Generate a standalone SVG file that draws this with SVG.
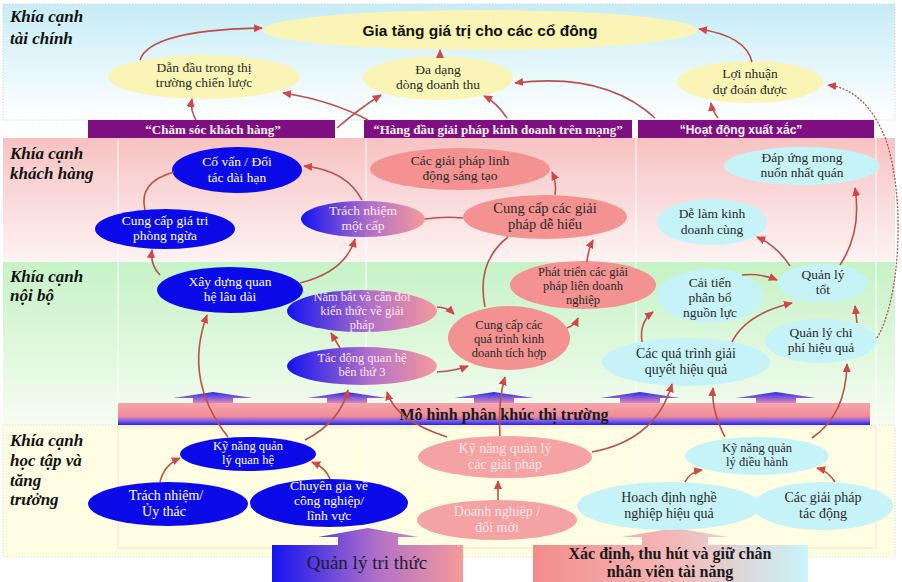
<svg xmlns="http://www.w3.org/2000/svg" width="902" height="582" viewBox="0 0 902 582">
  <defs>
    <linearGradient id="bandFin" x1="0" y1="0" x2="0" y2="1">
      <stop offset="0" stop-color="#c6ecf6"/>
      <stop offset="1" stop-color="#ffffff"/>
    </linearGradient>
    <linearGradient id="bandCus" x1="0" y1="0" x2="0" y2="1">
      <stop offset="0" stop-color="#f7c2c2"/>
      <stop offset="1" stop-color="#fdf3f3"/>
    </linearGradient>
    <linearGradient id="bandInt" x1="0" y1="0" x2="0" y2="1">
      <stop offset="0" stop-color="#c6f2c6"/>
      <stop offset="1" stop-color="#f6fdf2"/>
    </linearGradient>
    <linearGradient id="bluePink" x1="0" y1="0" x2="1" y2="0">
      <stop offset="0" stop-color="#1414f0"/>
      <stop offset="0.55" stop-color="#b070c8"/>
      <stop offset="1" stop-color="#f59a9a"/>
    </linearGradient>
    <linearGradient id="pinkCyan" x1="0" y1="0" x2="1" y2="0">
      <stop offset="0" stop-color="#f28c8c"/>
      <stop offset="0.5" stop-color="#f6b6b6"/>
      <stop offset="1" stop-color="#c8f4f8"/>
    </linearGradient>
    <linearGradient id="barGrad" x1="0" y1="0" x2="0" y2="1">
      <stop offset="0" stop-color="#f4a6aa"/>
      <stop offset="0.6" stop-color="#f08c98"/>
      <stop offset="0.8" stop-color="#8a60d8"/>
      <stop offset="1" stop-color="#2222ff"/>
    </linearGradient>
    <linearGradient id="upGrad" x1="0" y1="0" x2="0" y2="1">
      <stop offset="0" stop-color="#2a2af0"/>
      <stop offset="1" stop-color="#d88ab8"/>
    </linearGradient>
    <marker id="ah" viewBox="0 0 10 10" refX="9" refY="5" markerWidth="9" markerHeight="9" markerUnits="userSpaceOnUse" orient="auto">
      <path d="M0,0.5 L10,5 L0,9.5 z" fill="#d24646"/>
    </marker>
    <style>
      .side { font-family: "Liberation Serif", serif; font-weight: bold; font-style: italic; font-size: 17px; fill: #111; }
      .nt { font-family: "Liberation Serif", serif; font-size: 13.5px; text-anchor: middle; }
      .dark { fill: #2a2a2a; }
      .light { fill: #ffffff; }
      .soft { fill: #fde6ea; }
      .yel { fill: #faf5b6; }
      .blu { fill: #0b0bea; }
      .pnk { fill: #f39290; }
      .pnk2 { fill: #f5a2a2; }
      .cya { fill: #c6f3f8; }
      .grd { fill: url(#bluePink); }
      .banner { fill: #7d0f80; }
      .btxt { font-family: "Liberation Serif", serif; font-weight: bold; font-size: 13px; fill: #fff2f8; text-anchor: middle; }
      .col { stroke: #ffffff; stroke-opacity: 0.8; stroke-width: 1.2; }
      .conn path { fill: none; stroke: #b8524c; stroke-width: 1.6; }
      .conn .h { marker-end: url(#ah); }
    </style>
  </defs>

  <!-- perspective bands -->
  <rect x="3" y="4" width="892" height="116" fill="url(#bandFin)" stroke="#d8d8d8" stroke-dasharray="1.5,1.5"/>
  <rect x="3" y="138" width="892" height="124" fill="url(#bandCus)"/>
  <rect x="3" y="262" width="892" height="163" fill="url(#bandInt)"/>
  <rect x="3" y="425" width="892" height="132" fill="#fffde2" stroke="#e0e0d0" stroke-dasharray="1.5,1.5"/>

  <!-- column guides -->
  <g class="col">
    <line x1="118" y1="138" x2="118" y2="548"/>
    <line x1="366" y1="138" x2="366" y2="548"/>
    <line x1="636" y1="138" x2="636" y2="548"/>
    <line x1="876" y1="138" x2="876" y2="548"/>
  </g>
  <rect x="118" y="427" width="758" height="121" fill="none" stroke="#ebe6cf"/>

  <!-- side titles -->
  <text class="side" x="10" y="22">Khía cạnh</text>
  <text class="side" x="10" y="44">tài chính</text>
  <text class="side" x="10" y="159">Khía cạnh</text>
  <text class="side" x="10" y="179">khách hàng</text>
  <text class="side" x="10" y="282">Khía cạnh</text>
  <text class="side" x="10" y="301">nội bộ</text>
  <text class="side" x="10" y="446">Khía cạnh</text>
  <text class="side" x="10" y="466">học tập và</text>
  <text class="side" x="10" y="486">tăng</text>
  <text class="side" x="10" y="505">trưởng</text>

  <!-- value proposition banners -->
  <g id="banner-care">
    <rect class="banner" x="88" y="120" width="247" height="18"/>
    <text class="btxt" x="213" y="134">“Chăm sóc khách hàng”</text>
  </g>
  <g id="banner-online">
    <rect class="banner" x="364" y="120" width="268" height="18"/>
    <text class="btxt" x="498" y="134">“Hàng đầu giải pháp kinh doanh trên mạng”</text>
  </g>
  <g id="banner-ops">
    <rect class="banner" x="638" y="120" width="236" height="18"/>
    <text x="741" y="134" style="font-family:'Liberation Sans',sans-serif;font-weight:bold;font-size:12px;fill:#fff2f8;text-anchor:middle">“Hoạt động xuất xắc”</text>
  </g>

  <!-- segmentation bar with up arrows -->
  <g id="segment-bar">
    <g fill="url(#upGrad)">
      <polygon points="173,398 213,392 253,398 233,398 233,403 193,403 193,398"/>
      <polygon points="307,398 347,392 387,398 367,398 367,403 327,403 327,398"/>
      <polygon points="454,398 494,392 534,398 514,398 514,403 474,403 474,398"/>
      <polygon points="600,398 640,392 680,398 660,398 660,403 620,403 620,398"/>
      <polygon points="736,398 776,392 816,398 796,398 796,403 756,403 756,398"/>
    </g>
    <rect x="118" y="403" width="752" height="22" fill="url(#barGrad)"/>
    <text x="504" y="420" style="font-family:'Liberation Serif',serif;font-weight:bold;font-size:16px;fill:#1a1a1a;text-anchor:middle">Mô hình phân khúc thị trường</text>
  </g>

  <!-- foundation blocks -->
  <g id="knowledge-mgmt">
    <polygon points="318,537 368,528 418,537 398,537 398,545 463,545 463,582 272,582 272,545 338,545 338,537" fill="url(#bluePink)"/>
    <text x="367" y="569" style="font-family:'Liberation Serif',serif;font-size:19px;fill:#1c1c3a;text-anchor:middle">Quản lý tri  thức</text>
  </g>
  <g id="talent">
    <polygon points="622,537 675,528 728,537 708,537 708,545 808,545 808,582 533,582 533,545 642,545 642,537" fill="url(#pinkCyan)"/>
    <text x="670" y="559" style="font-family:'Liberation Serif',serif;font-weight:bold;font-size:16px;fill:#1a1a1a;text-anchor:middle">Xác định, thu hút và giữ chân</text>
    <text x="670" y="577" style="font-family:'Liberation Serif',serif;font-weight:bold;font-size:16px;fill:#1a1a1a;text-anchor:middle">nhân viên tài năng</text>
  </g>

  <!-- financial nodes -->
  <g id="shareholder-value">
    <ellipse class="yel" cx="480" cy="30" rx="217" ry="20"/>
    <text x="480" y="36" style="font-family:'Liberation Sans',sans-serif;font-weight:bold;font-size:15.5px;fill:#111;text-anchor:middle">Gia tăng giá trị cho các cổ đông</text>
  </g>
  <g id="market-lead">
    <ellipse class="yel" cx="204" cy="77" rx="96" ry="22"/>
    <text class="nt dark"><tspan x="204" y="72">Dẫn đầu trong thị</tspan><tspan x="204" y="87">trường chiến lược</tspan></text>
  </g>
  <g id="revenue-mix">
    <ellipse class="yel" cx="438" cy="78" rx="75" ry="22"/>
    <text class="nt dark"><tspan x="438" y="74">Đa dạng</tspan><tspan x="438" y="89">dòng doanh thu</tspan></text>
  </g>
  <g id="profit">
    <ellipse class="yel" cx="750" cy="82" rx="73" ry="21"/>
    <text class="nt dark"><tspan x="750" y="78">Lợi nhuận</tspan><tspan x="750" y="94">dự đoán được</tspan></text>
  </g>

  <!-- customer nodes -->
  <g id="advisor">
    <ellipse class="blu" cx="237" cy="170" rx="65" ry="23"/>
    <text class="nt light"><tspan x="237" y="166">Cố vấn / Đối</tspan><tspan x="237" y="182">tác dài hạn</tspan></text>
  </g>
  <g id="preventive-value">
    <ellipse class="blu" cx="165" cy="229" rx="70" ry="20"/>
    <text class="nt light"><tspan x="165" y="225">Cung cấp giá tri</tspan><tspan x="165" y="240">phòng ngừa</tspan></text>
  </g>
  <g id="single-accountability">
    <ellipse class="grd" cx="363" cy="219" rx="62" ry="18"/>
    <text class="nt soft"><tspan x="363" y="215">Trách nhiệm</tspan><tspan x="363" y="230">một cấp</tspan></text>
  </g>
  <g id="flexible-solutions">
    <ellipse class="pnk" cx="460" cy="169" rx="90" ry="21"/>
    <text class="nt dark"><tspan x="460" y="165">Các giải pháp linh</tspan><tspan x="460" y="180">động sáng tạo</tspan></text>
  </g>
  <g id="simple-solutions">
    <ellipse class="pnk" cx="545" cy="217" rx="82" ry="22"/>
    <text class="nt dark" style="font-size:14.5px"><tspan x="545" y="213">Cung cấp các giải</tspan><tspan x="545" y="229">pháp dễ hiểu</tspan></text>
  </g>
  <g id="consistent-needs">
    <ellipse class="cya" cx="802" cy="166" rx="78" ry="19"/>
    <text class="nt dark"><tspan x="802" y="162">Đáp ứng mong</tspan><tspan x="802" y="177">nuốn nhất quán</tspan></text>
  </g>
  <g id="easy-business">
    <ellipse class="cya" cx="712" cy="222" rx="55" ry="23"/>
    <text class="nt dark"><tspan x="712" y="218">Dễ làm kinh</tspan><tspan x="712" y="234">doanh cùng</tspan></text>
  </g>

  <!-- internal nodes -->
  <g id="long-term-relations">
    <ellipse class="blu" cx="230" cy="290" rx="73" ry="23"/>
    <text class="nt light"><tspan x="230" y="286">Xây dựng quan</tspan><tspan x="230" y="301">hệ lâu  dài</tspan></text>
  </g>
  <g id="solution-knowledge">
    <ellipse class="grd" cx="362" cy="311" rx="75" ry="21"/>
    <text class="nt soft" style="font-size:12.5px"><tspan x="362" y="301">Nắm bắt và cân đối</tspan><tspan x="362" y="315">kiến thức về giải</tspan><tspan x="362" y="329">pháp</tspan></text>
  </g>
  <g id="third-party">
    <ellipse class="grd" cx="362" cy="366" rx="75" ry="19"/>
    <text class="nt soft" style="font-size:12.5px"><tspan x="362" y="362">Tác động quan hệ</tspan><tspan x="362" y="376">bên thứ 3</tspan></text>
  </g>
  <g id="integrated-processes">
    <ellipse class="pnk" cx="509" cy="338" rx="61" ry="32"/>
    <text class="nt dark" style="font-size:12.5px"><tspan x="509" y="329">Cung cấp  các</tspan><tspan x="509" y="343">quá trình kinh</tspan><tspan x="509" y="357">doanh tích hợp</tspan></text>
  </g>
  <g id="enterprise-solutions">
    <ellipse class="pnk" cx="583" cy="285" rx="73" ry="24"/>
    <text class="nt dark" style="font-size:12.5px"><tspan x="583" y="276">Phát triển các giải</tspan><tspan x="583" y="290">pháp liên doanh</tspan><tspan x="583" y="304">nghiệp</tspan></text>
  </g>
  <g id="resource-allocation">
    <ellipse class="cya" cx="710" cy="296" rx="53" ry="27"/>
    <text class="nt dark"><tspan x="710" y="287">Cải tiến</tspan><tspan x="710" y="302">phân bổ</tspan><tspan x="710" y="317">nguồn lực</tspan></text>
  </g>
  <g id="good-management">
    <ellipse class="cya" cx="823" cy="283" rx="45" ry="19"/>
    <text class="nt dark"><tspan x="823" y="279">Quản lý</tspan><tspan x="823" y="294">tốt</tspan></text>
  </g>
  <g id="cost-management">
    <ellipse class="cya" cx="821" cy="341" rx="56" ry="22"/>
    <text class="nt dark"><tspan x="821" y="337">Quản lý chi</tspan><tspan x="821" y="352">phí hiệu quả</tspan></text>
  </g>
  <g id="resolution-processes">
    <ellipse class="cya" cx="686" cy="362" rx="84" ry="24"/>
    <text class="nt dark" style="font-size:14px"><tspan x="686" y="358">Các quá trình giải</tspan><tspan x="686" y="374">quyết hiệu quả</tspan></text>
  </g>

  <!-- learning and growth nodes -->
  <g id="relationship-skills">
    <ellipse class="blu" cx="248" cy="454" rx="68" ry="17"/>
    <text class="nt light" style="font-size:12.5px"><tspan x="248" y="450">Kỹ năng quản</tspan><tspan x="248" y="464">lý quan hệ</tspan></text>
  </g>
  <g id="trust">
    <ellipse class="blu" cx="168" cy="504" rx="80" ry="22"/>
    <text class="nt light" style="font-size:14px"><tspan x="166" y="500">Trách  nhiệm/</tspan><tspan x="164" y="516">Ủy thác</tspan></text>
  </g>
  <g id="industry-expert">
    <ellipse class="blu" cx="329" cy="503" rx="79" ry="24"/>
    <text class="nt light"><tspan x="329" y="490">Chuyên gia về</tspan><tspan x="329" y="505">công nghiệp/</tspan><tspan x="329" y="520">lĩnh vực</tspan></text>
  </g>
  <g id="solution-skills">
    <ellipse class="pnk2" cx="505" cy="457" rx="87" ry="21"/>
    <text class="nt soft" style="font-size:14px"><tspan x="505" y="453">Kỹ năng quản lý</tspan><tspan x="505" y="469">các giải pháp</tspan></text>
  </g>
  <g id="innovation">
    <ellipse class="pnk2" cx="497" cy="520" rx="80" ry="20"/>
    <text class="nt soft" style="font-size:14px"><tspan x="497" y="516">Doanh nghiệp /</tspan><tspan x="497" y="532">đổi mới</tspan></text>
  </g>
  <g id="exec-skills">
    <ellipse class="cya" cx="757" cy="456" rx="72" ry="19"/>
    <text class="nt dark" style="font-size:12.5px"><tspan x="757" y="452">Kỹ năng quản</tspan><tspan x="757" y="466">lý điều hành</tspan></text>
  </g>
  <g id="career-planning">
    <ellipse class="cya" cx="669" cy="506" rx="92" ry="24"/>
    <text class="nt dark" style="font-size:14px"><tspan x="669" y="502">Hoach định nghề</tspan><tspan x="669" y="518">nghiệp hiệu quả</tspan></text>
  </g>
  <g id="impact-solutions">
    <ellipse class="cya" cx="823" cy="506" rx="70" ry="24"/>
    <text class="nt dark" style="font-size:14px"><tspan x="823" y="502">Các giải pháp</tspan><tspan x="823" y="518">tác động</tspan></text>
  </g>

  <!-- connectors -->
  <g class="conn">
    <path class="h" d="M140,60 Q150,30 262,28"/>
    <path class="h" d="M440,57 L440,50"/>
    <path class="h" d="M752,62 Q746,36 699,29"/>
    <path class="h" d="M196,120 Q190,110 192,99"/>
    <path class="h" d="M368,120 Q330,100 283,93"/>
    <path class="h" d="M337,128 Q360,108 381,95"/>
    <path class="h" d="M507,118 Q496,102 484,96"/>
    <path class="h" d="M655,118 Q605,72 515,83"/>
    <path class="h" d="M718,118 Q712,110 711,103"/>
    <path class="h" d="M877,338 C900,300 906,200 886,140 C872,104 852,88 828,85" style="stroke-dasharray:2,1.5;stroke-width:1.3"/>

    <path class="h" d="M362,200 Q346,170 304,166"/>
    <path d="M145,210 Q138,182 174,172"/>
    <path class="h" d="M160,275 Q150,265 152,250"/>
    <path class="h" d="M300,283 Q345,272 355,239"/>
    <path d="M463,218 Q445,216 425,219"/>
    <path class="h" d="M555,195 Q557,183 552,172"/>
    <path d="M485,307 Q476,262 508,237"/>
    <path class="h" d="M587,262 Q588,250 593,240"/>
    <path class="h" d="M790,266 Q776,245 757,237"/>
    <path class="h" d="M840,265 Q862,232 855,188"/>

    <path class="h" d="M340,348 L331,333"/>
    <path class="h" d="M437,307 Q447,307 454,314"/>
    <path class="h" d="M437,372 Q455,371 468,366"/>
    <path class="h" d="M567,328 Q575,325 578,318"/>
    <path class="h" d="M642,342 Q639,322 653,312"/>
    <path class="h" d="M732,342 Q746,314 792,303"/>
    <path class="h" d="M742,275 Q760,273 777,280"/>
    <path class="h" d="M857,323 L855,306"/>

    <path class="h" d="M160,482 Q164,465 180,458"/>
    <path class="h" d="M330,479 Q326,468 312,462"/>
    <path class="h" d="M228,437 Q183,380 207,315"/>
    <path class="h" d="M305,440 Q340,422 348,390"/>
    <path class="h" d="M447,437 Q395,420 387,392"/>
    <path class="h" d="M500,436 Q498,400 505,377"/>
    <path class="h" d="M592,452 Q656,440 672,384"/>
    <path class="h" d="M498,500 L498,481"/>
    <path class="h" d="M725,437 Q711,410 713,388"/>
    <path class="h" d="M812,438 Q846,415 847,364"/>
    <path class="h" d="M685,482 Q690,472 702,470"/>
    <path class="h" d="M835,482 Q828,471 817,468"/>
  </g>
</svg>
